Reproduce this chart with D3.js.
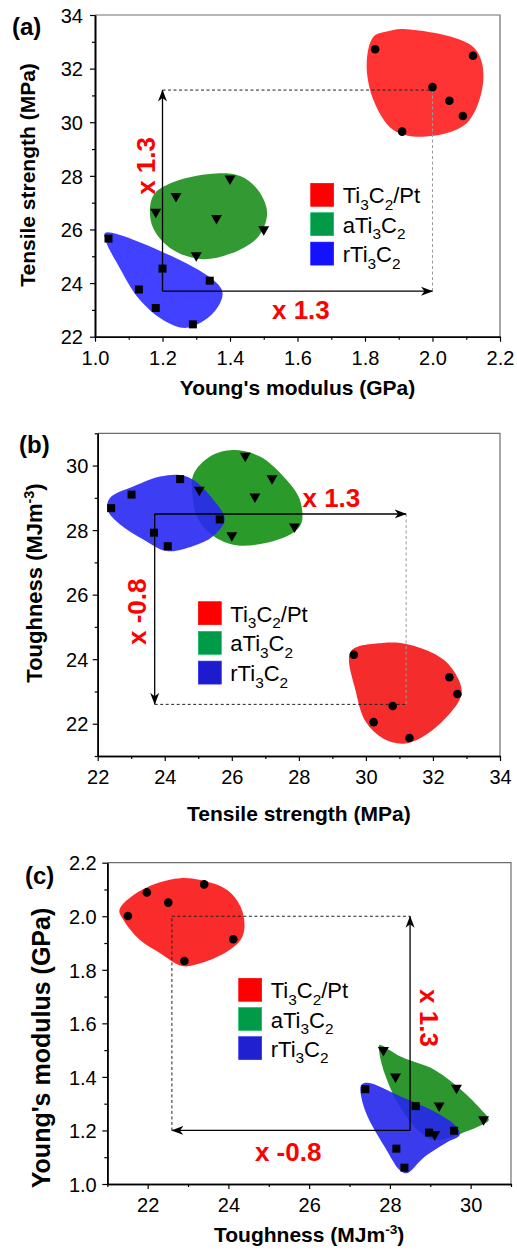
<!DOCTYPE html>
<html><head><meta charset="utf-8">
<script src="https://cdn.jsdelivr.net/npm/d3@7"></script>
<style>
body{margin:0;background:#fff}
svg{display:block}
text{font-family:"Liberation Sans",Arial,Helvetica,sans-serif}
</style>
</head><body>
<svg id="chart" width="517" height="1252"></svg>
<script>
// ---------------- DATA ----------------
const seriesNames = ["Ti3C2/Pt", "aTi3C2", "rTi3C2"];

// Panel (a): x = Young's modulus (GPa), y = Tensile strength (MPa)
const aPtPts = [[1.83,32.72],[2.12,32.48],[2.00,31.31],[2.05,30.80],[2.09,30.23],[1.91,29.65]];
const aAPts  = [[1.40,27.88],[1.24,27.22],[1.18,26.64],[1.36,26.40],[1.50,25.98],[1.30,25.01]];
const aRPts  = [[1.04,25.66],[1.20,24.54],[1.34,24.09],[1.13,23.76],[1.18,23.07],[1.29,22.46]];
const aPtBlob = [[1.864,33.38],[1.913,33.48],[2.12,32.82],[2.151,31.70],[2.101,29.96],[1.973,29.46],[1.884,29.71],[1.825,30.83],[1.805,32.20],[1.825,33.19]];
const aABlob  = [[1.178,27.36],[1.252,27.85],[1.359,28.09],[1.430,27.99],[1.483,27.47],[1.510,26.61],[1.483,25.72],[1.400,25.09],[1.311,24.90],[1.222,25.31],[1.172,26.06],[1.163,26.80]];
const aRBlob  = [[1.030,25.87],[1.193,25.20],[1.350,24.12],[1.378,23.63],[1.350,22.88],[1.273,22.33],[1.212,22.55],[1.133,23.37],[1.065,24.75],[1.033,25.53]];
const aXTicks = [1.0,1.2,1.4,1.6,1.8,2.0,2.2];
const aXMinor = [1.1,1.3,1.5,1.7,1.9,2.1];
const aYTicks = [22,24,26,28,30,32,34];
const aYMinor = [23,25,27,29,31,33];
const aArrows = [[[1.2,23.7],[1.2,31.2]], [[1.2,23.7],[2.0,23.7]]];
const aDashDark = [[[1.2,31.2],[2.0,31.2]]];
const aDashGray = [[[2.0,31.2],[2.0,23.7]]];
const aNotes = [{x:1.151,y:28.37,t:"x 1.3",r:-90},{x:1.61,y:23.0,t:"x 1.3",r:0}];

// Panel (b): x = Tensile strength (MPa), y = Toughness (MJm-3)
const bPtPts = [[29.64,24.14],[32.49,23.44],[32.73,22.92],[30.80,22.55],[30.23,22.05],[31.30,21.56]];
const bAPts  = [[26.40,30.28],[27.20,29.59],[25.03,29.23],[26.69,29.02],[27.87,28.09],[26.00,27.82]];
const bRPts  = [[22.40,28.68],[23.01,29.10],[24.46,29.58],[25.64,28.33],[23.68,27.92],[24.09,27.50]];
const bPtBlob = [[29.55,24.24],[30.5,24.5],[31.3,24.45],[32.3,24.0],[32.75,23.4],[32.85,22.9],[32.4,22.2],[31.7,21.6],[31.1,21.38],[30.5,21.55],[30.0,22.05],[29.7,23.0]];
const bABlob  = [[24.85,29.71],[25.35,30.28],[26.04,30.48],[26.84,30.28],[27.63,29.56],[28.03,28.94],[28.08,28.23],[27.83,27.92],[27.04,27.61],[26.14,27.53],[25.45,27.82],[25.00,28.33],[24.83,29.05]];
const bRBlob  = [[22.37,29.00],[23.06,29.35],[23.86,29.66],[24.45,29.71],[24.85,29.56],[25.45,28.94],[25.79,28.33],[25.45,27.82],[24.85,27.51],[24.06,27.35],[23.36,27.71],[22.66,28.18],[22.29,28.64]];
const bXTicks = [22,24,26,28,30,32,34];
const bXMinor = [23,25,27,29,31,33];
const bYTicks = [22,24,26,28,30];
const bYMinor = [21,23,25,27,29,31];
const bArrows = [[[23.7,28.5],[31.2,28.5]], [[23.7,28.5],[23.7,22.6]]];
const bDashDark = [[[23.7,22.6],[31.2,22.6]]];
const bDashGray = [[[31.2,28.5],[31.2,22.6]]];
const bNotes = [{x:28.97,y:29.0,t:"x 1.3",r:0},{x:23.17,y:25.47,t:"x -0.8",r:-90}];

// Panel (c): x = Toughness (MJm-3), y = Young's modulus (GPa)
const cPtPts = [[21.51,2.001],[21.98,2.089],[22.51,2.051],[23.40,2.119],[24.12,1.914],[22.91,1.833]];
const cAPts  = [[27.84,1.498],[28.14,1.399],[29.65,1.357],[29.22,1.291],[30.32,1.239],[29.11,1.183]];
const cRPts  = [[27.39,1.354],[28.64,1.291],[29.59,1.199],[28.97,1.192],[28.16,1.132],[28.36,1.061]];
const cPtBlob = [[21.30,2.023],[21.65,2.079],[22.23,2.123],[22.81,2.142],[23.31,2.135],[23.97,2.098],[24.30,2.036],[24.40,1.961],[24.30,1.911],[23.97,1.868],[23.31,1.824],[22.85,1.814],[22.31,1.862],[21.81,1.911],[21.40,1.986]];
const cABlob  = [[27.74,1.519],[28.28,1.475],[29.11,1.426],[29.77,1.351],[30.27,1.276],[30.45,1.239],[30.27,1.220],[29.77,1.189],[29.11,1.164],[28.70,1.201],[28.20,1.301],[27.87,1.413],[27.73,1.500]];
const cRBlob  = [[27.29,1.370],[27.45,1.378],[28.28,1.326],[29.11,1.270],[29.65,1.214],[29.73,1.183],[29.44,1.158],[28.86,1.102],[28.41,1.040],[28.24,1.052],[27.87,1.139],[27.45,1.251],[27.29,1.326]];
const cXTicks = [22,24,26,28,30];
const cXMinor = [21,23,25,27,29,31];
const cYTicks = [1.0,1.2,1.4,1.6,1.8,2.0,2.2];
const cYMinor = [1.1,1.3,1.5,1.7,1.9,2.1];
const cArrows = [[[28.5,1.2],[28.5,2.0]], [[28.5,1.2],[22.6,1.2]]];
const cDashDark = [[[22.6,1.2],[22.6,2.0]], [[22.6,2.0],[28.5,2.0]]];
const cDashGray = [];
const cNotes = [{x:28.98,y:1.62,t:"x 1.3",r:90},{x:25.48,y:1.12,t:"x -0.8",r:0}];

// ---------------- DRAWING ----------------
const svg = d3.select("#chart");
const defs = svg.append("defs");
defs.append("marker").attr("id","arr")
  .attr("viewBox","0 -5 12 10").attr("refX",11.5).attr("refY",0)
  .attr("markerWidth",12).attr("markerHeight",10)
  .attr("markerUnits","userSpaceOnUse").attr("orient","auto")
  .append("path").attr("d","M0,-4.5L12,0L0,4.5L3.5,0Z").attr("fill","#000");

const symbols = [d3.symbolCircle, d3.symbolTriangle, d3.symbolSquare];

function addSubText(sel, str, fs){
  const parts = str.split(/(\d)/).filter(s => s.length);
  let sub = false;
  parts.forEach(p => {
    const isD = /^\d$/.test(p);
    const t = sel.append("tspan").text(p);
    if (isD && !sub){ t.attr("dy", fs*0.3).attr("font-size", fs*0.7); sub = true; }
    else if (isD) { t.attr("font-size", fs*0.7); }
    else if (!isD && sub){ t.attr("dy", -fs*0.3); sub = false; }
  });
}

function drawPanel(p){
  const g = svg.append("g");
  const x = d3.scaleLinear().domain(p.xd).range([p.l, p.r]);
  const y = d3.scaleLinear().domain(p.yd).range([p.b, p.t]);
  const line = d3.line().x(d => x(d[0])).y(d => y(d[1]));

  g.append("path").attr("d",`M${p.l},${p.t}H${p.r}V${p.b}`)
    .attr("fill","none").attr("stroke","#6e6e6e").attr("stroke-width",1.2);

  const blob = d3.line().x(d => x(d[0])).y(d => y(d[1])).curve(d3.curveCatmullRomClosed.alpha(0.5));
  p.blobs.forEach((b,i) => {
    g.append("path").attr("d", blob(b)).attr("fill", p.blobColors[i])
      .attr("fill-opacity", i === 2 ? 0.9 : 1);
  });

  p.dashDark.forEach(s => g.append("path").attr("d", line(s)).attr("fill","none")
    .attr("stroke","#222").attr("stroke-width",1).attr("stroke-dasharray","3,2.5"));
  p.dashGray.forEach(s => g.append("path").attr("d", line(s)).attr("fill","none")
    .attr("stroke","#9a9a9a").attr("stroke-width",1).attr("stroke-dasharray","3,2.5"));
  p.arrows.forEach(s => g.append("path").attr("d", line(s)).attr("fill","none")
    .attr("stroke","#000").attr("stroke-width",1.3).attr("marker-end","url(#arr)"));

  p.points.forEach((pts,i) => {
    const sym = d3.symbol().type(symbols[i]).size(i===0 ? 58 : (i===1 ? 52 : 64));
    g.selectAll(null).data(pts).join("path")
      .attr("d", sym)
      .attr("transform", d => `translate(${x(d[0])},${y(d[1]) + (i===1 ? -0.5 : 0)})` + (i===1 ? " rotate(180)" : ""))
      .attr("fill","#000");
  });

  p.notes.forEach(n => {
    g.append("text").attr("transform", `translate(${x(n.x)},${y(n.y)}) rotate(${n.r})`)
      .attr("text-anchor","middle").attr("dy","0.36em")
      .attr("font-size",26).attr("font-weight","bold").attr("fill","#ff0000").text(n.t);
  });

  seriesNames.forEach((name,i) => {
    const yy = p.legY + i*p.legStep;
    g.append("rect").attr("x",p.legX).attr("y",yy).attr("width",23).attr("height",23)
      .attr("fill",p.legColors[i]).attr("stroke", d3.color(p.legColors[i]).brighter(0.6)).attr("stroke-width",0.6);
    const t = g.append("text").attr("x",p.legX+32).attr("y",yy+20).attr("font-size",22).attr("fill","#000");
    addSubText(t, name, 22);
  });

  const ax = g.append("g").attr("transform",`translate(0,${p.b})`)
    .call(d3.axisBottom(x).tickValues(p.xt).tickFormat(p.xf).tickSize(5).tickSizeOuter(0).tickPadding(9));
  const axm = g.append("g").attr("transform",`translate(0,${p.b})`)
    .call(d3.axisBottom(x).tickValues(p.xm).tickFormat("").tickSize(3).tickSizeOuter(0));
  const ay = g.append("g").attr("transform",`translate(${p.l},0)`)
    .call(d3.axisLeft(y).tickValues(p.yt).tickFormat(p.yf).tickSize(5).tickSizeOuter(0).tickPadding(p.yPad));
  const aym = g.append("g").attr("transform",`translate(${p.l},0)`)
    .call(d3.axisLeft(y).tickValues(p.ym).tickFormat("").tickSize(3).tickSizeOuter(0));
  [ax,axm,ay,aym].forEach(a => {
    a.select(".domain").attr("stroke","#000").attr("stroke-width",1.6);
    a.selectAll(".tick line").attr("stroke","#000").attr("stroke-width",1.2);
    a.selectAll("text").attr("font-size",20).attr("fill","#000")
      .attr("font-family",'"Liberation Sans",Arial,sans-serif');
  });
  ay.selectAll("text").attr("dy","0.36em");

  const xt = g.append("text").attr("x",(p.l+p.r)/2).attr("y",p.xTitleY)
    .attr("text-anchor","middle").attr("font-size",p.xTitleFs).attr("font-weight","bold");
  p.xTitle(xt, p.xTitleFs);
  const yt = g.append("text").attr("transform",`translate(${p.yTitleX},${p.yTitleC}) rotate(-90)`)
    .attr("text-anchor","middle").attr("font-size",p.yTitleFs).attr("font-weight","bold");
  p.yTitle(yt, p.yTitleFs);

  g.append("text").attr("x",p.labX).attr("y",p.labY).attr("font-size",24)
    .attr("font-weight","bold").text(p.label);
}

const plain = s => (t) => t.text(s);
const tough = (t, fs) => {
  t.append("tspan").text("Toughness (MJm");
  t.append("tspan").attr("dy",-fs*0.38).attr("font-size",fs*0.65).text("-3");
  t.append("tspan").attr("dy",fs*0.38).text(")");
};

drawPanel({
  l:95, r:500, t:15, b:336.7, xd:[1.0,2.2], yd:[22,34],
  xt:aXTicks, xm:aXMinor, yt:aYTicks, ym:aYMinor,
  xf:d3.format(".1f"), yf:d3.format("d"), yPad:7,
  blobs:[aPtBlob,aABlob,aRBlob], blobColors:["#fe3434","#339933","#2c2cff"],
  points:[aPtPts,aAPts,aRPts],
  arrows:aArrows, dashDark:aDashDark, dashGray:aDashGray, notes:aNotes,
  legX:310.7, legY:183.3, legStep:29.4, legColors:["#ff0000","#009a48","#1212ff"],
  xTitle:plain("Young's modulus (GPa)"), xTitleY:395, xTitleFs:21,
  yTitle:plain("Tensile strength (MPa)"), yTitleX:35, yTitleC:175, yTitleFs:21,
  label:"(a)", labX:12, labY:35
});

drawPanel({
  l:97.7, r:500, t:433.3, b:756, xd:[22,34], yd:[21,31],
  xt:bXTicks, xm:bXMinor, yt:bYTicks, ym:bYMinor,
  xf:d3.format("d"), yf:d3.format("d"), yPad:4.4,
  blobs:[bPtBlob,bABlob,bRBlob], blobColors:["#f52c2c","#2a9a2a","#2828f2"],
  points:[bPtPts,bAPts,bRPts],
  arrows:bArrows, dashDark:bDashDark, dashGray:bDashGray, notes:bNotes,
  legX:198.3, legY:601.7, legStep:29.7, legColors:["#ff0000","#009a48","#1c1cce"],
  xTitle:plain("Tensile strength (MPa)"), xTitleY:821, xTitleFs:21,
  yTitle:tough, yTitleX:42, yTitleC:583, yTitleFs:22,
  label:"(b)", labX:19, labY:453
});

drawPanel({
  l:107.3, r:511, t:862.7, b:1184, xd:[21,31], yd:[1.0,2.2],
  xt:cXTicks, xm:cXMinor, yt:cYTicks, ym:cYMinor,
  xf:d3.format("d"), yf:d3.format(".1f"), yPad:5.6,
  blobs:[cPtBlob,cABlob,cRBlob], blobColors:["#fa2b2b","#2e962e","#2626ec"],
  points:[cPtPts,cAPts,cRPts],
  arrows:cArrows, dashDark:cDashDark, dashGray:cDashGray, notes:cNotes,
  legX:238.7, legY:978.3, legStep:29.2, legColors:["#ff0000","#009a48","#2020d0"],
  xTitle:tough, xTitleY:1242, xTitleFs:21,
  yTitle:plain("Young's modulus (GPa)"), yTitleX:50, yTitleC:1048, yTitleFs:25,
  label:"(c)", labX:25, labY:884
});
</script>
</body></html>
